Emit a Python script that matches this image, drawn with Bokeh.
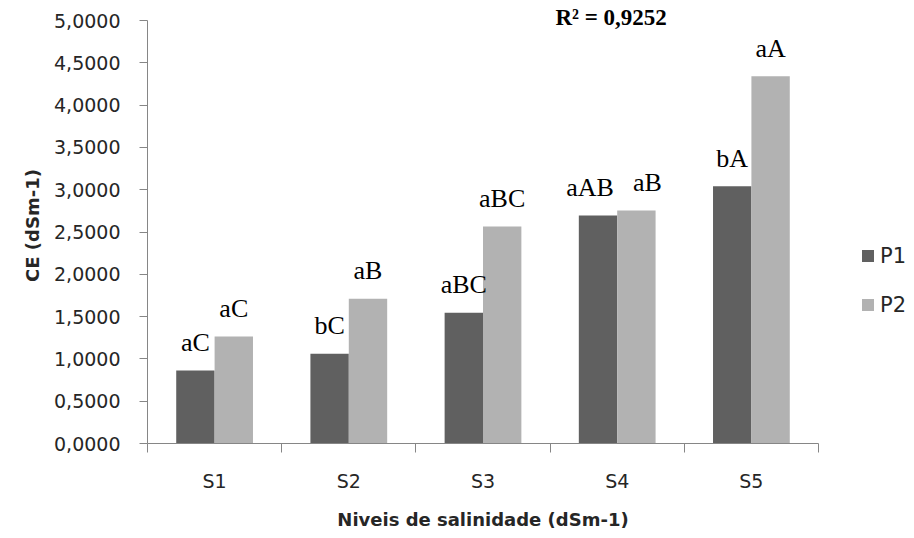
import numpy as np
from bokeh.plotting import figure
from bokeh.models import (ColumnDataSource, Range1d, FixedTicker, CustomJSTickFormatter,
                          Legend, LegendItem, Label)
from bokeh.core.properties import value
from bokeh.embed import file_html
from bokeh.resources import INLINE

# ---- data ----
categories = ["S1", "S2", "S3", "S4", "S5"]
p1_values = [0.863, 1.060, 1.545, 2.695, 3.040]
p2_values = [1.265, 1.710, 2.565, 2.754, 4.340]
p1_labels = ["aC", "bC", "aBC", "aAB", "bA"]
p2_labels = ["aC", "aB", "aBC", "aB", "aA"]
y_ticks = [0, 0.5, 1, 1.5, 2, 2.5, 3, 3.5, 4, 4.5, 5]
r2_text = "R² = 0,9252"

# small horizontal nudges (px) of the letter labels, to avoid overlap as in the original
p1_label_nudge = [0, 0, 0, -8, 0]
p2_label_nudge = [0, 0, 0, 11, 0]

P1_COLOR = "#606060"
P2_COLOR = "#b2b2b2"
AXIS_COLOR = "#868686"
SANS = "DejaVu Sans"
SERIF = "Liberation Serif"

n = len(categories)
centers = np.arange(n) + 0.5
bw = 0.286

src1 = ColumnDataSource(dict(x=centers - bw / 2, top=p1_values, lab=p1_labels, dx=p1_label_nudge))
src2 = ColumnDataSource(dict(x=centers + bw / 2, top=p2_values, lab=p2_labels, dx=p2_label_nudge))

p = figure(frame_width=671, frame_height=436,
           x_range=Range1d(0, n), y_range=Range1d(0, 5.154),
           output_backend="svg", toolbar_location=None,
           min_border_left=147, min_border_right=90,
           min_border_top=7, min_border_bottom=86)
p.title.visible = False
p.outline_line_color = None
p.xgrid.grid_line_color = None
p.ygrid.grid_line_color = None
p.background_fill_color = "white"
p.border_fill_color = "white"

r1 = p.vbar(x="x", top="top", width=bw, source=src1, fill_color=P1_COLOR, line_color=None)
r2 = p.vbar(x="x", top="top", width=bw, source=src2, fill_color=P2_COLOR, line_color=None)

for s in (src1, src2):
    p.text(x="x", y="top", text="lab", source=s, x_offset="dx", y_offset=-28,
           text_align="center", text_baseline="alphabetic",
           text_font=value(SERIF), text_font_size="26px", text_color="black")

# x axis
xa = p.xaxis[0]
xa.ticker = FixedTicker(ticks=list(centers), minor_ticks=list(range(n + 1)))
xa.formatter = CustomJSTickFormatter(args=dict(labels=categories),
                                     code="return labels[Math.floor(tick)];")
xa.major_tick_line_color = None
xa.major_tick_out = 0
xa.major_tick_in = 0
xa.minor_tick_line_color = AXIS_COLOR
xa.minor_tick_out = 9
xa.minor_tick_in = 0
xa.axis_line_color = AXIS_COLOR
xa.major_label_standoff = 17
xa.major_label_text_font = SANS
xa.major_label_text_font_size = "19px"
xa.major_label_text_color = "#262626"
xa.axis_label = "Niveis de salinidade (dSm-1)"
xa.axis_label_text_font = SANS
xa.axis_label_text_font_style = "bold"
xa.axis_label_text_font_size = "18px"
xa.axis_label_text_color = "#262626"
xa.axis_label_standoff = 14

# y axis
ya = p.yaxis[0]
ya.ticker = FixedTicker(ticks=y_ticks, minor_ticks=[])
ya.bounds = (0, 5)
ya.formatter = CustomJSTickFormatter(code="return tick.toFixed(4).replace('.', ',');")
ya.major_tick_line_color = AXIS_COLOR
ya.major_tick_out = 8
ya.major_tick_in = 0
ya.minor_tick_line_color = None
ya.axis_line_color = AXIS_COLOR
ya.major_label_standoff = 19
ya.major_label_text_font = SANS
ya.major_label_text_font_size = "19px"
ya.major_label_text_color = "#262626"
ya.axis_label = "CE (dSm-1)"
ya.axis_label_text_font = SANS
ya.axis_label_text_font_style = "bold"
ya.axis_label_text_font_size = "18px"
ya.axis_label_text_color = "#262626"
ya.axis_label_standoff = 8

# R^2 annotation
p.add_layout(Label(x=3.04, y=5.035, text=r2_text, text_font=SERIF,
                   text_font_style="bold", text_font_size="23px",
                   text_align="left", text_baseline="alphabetic", text_color="black"))

legend = Legend(items=[LegendItem(label="P1", renderers=[r1]),
                       LegendItem(label="P2", renderers=[r2])],
                location=(42, 126), orientation="vertical",
                glyph_width=15, glyph_height=15, label_standoff=5,
                label_text_font=SANS, label_text_font_size="21px",
                label_text_color="#262626", label_height=25,
                spacing=24, padding=0, margin=0,
                border_line_color=None, background_fill_alpha=0)
p.add_layout(legend, "right")

open("out.html", "w").write(file_html(p, INLINE))
